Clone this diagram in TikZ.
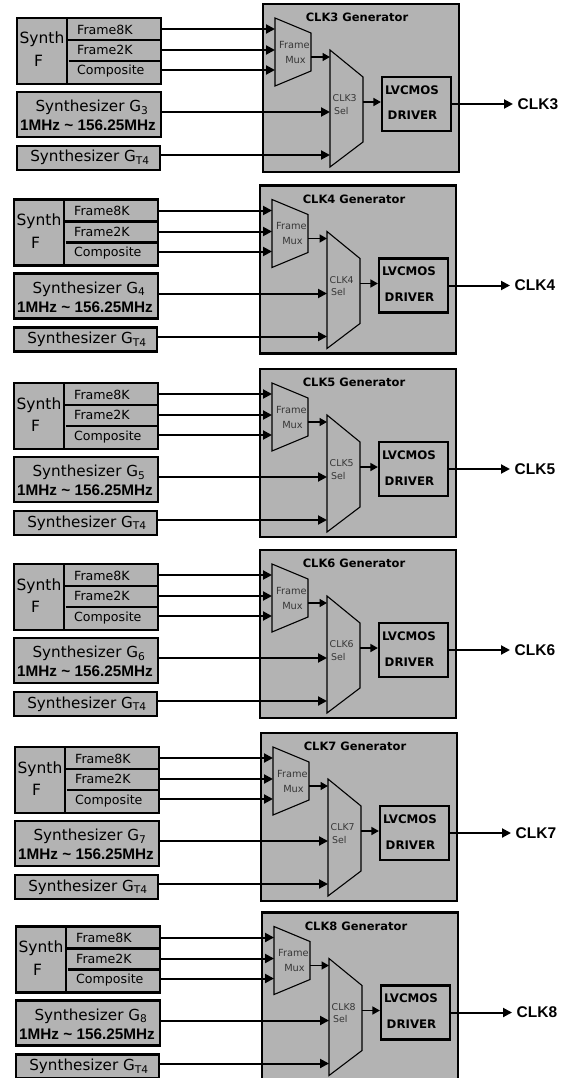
\documentclass[tikz,border=0pt]{standalone}
\usepackage{fontspec}
\setmainfont{DejaVu Sans}
\newfontfamily\arialb{Liberation Sans}
\usetikzlibrary{arrows.meta}
\definecolor{boxgray}{RGB}{179,179,179}
\definecolor{muxtext}{RGB}{55,55,55}
\newcommand\fsynth{\fontsize{15.5}{17}\selectfont}
\newcommand\frowlbl{\fontsize{12.6}{14}\selectfont}
\newcommand\fsyn{\fontsize{15.2}{17}\selectfont}
\newcommand\fmhz{\arialb\bfseries\fontsize{15.3}{17}\selectfont}
\newcommand\fgen{\bfseries\fontsize{11.5}{13}\selectfont}
\newcommand\fmux{\fontsize{9.8}{11}\selectfont}
\newcommand\fsel{\fontsize{9.4}{11}\selectfont}
\newcommand\fdrv{\bfseries\fontsize{11.8}{13}\selectfont}
\newcommand\fout{\arialb\bfseries\fontsize{15.5}{17}\selectfont}
\begin{document}
\begin{tikzpicture}[x=1pt,y=-1pt,
  box/.style={draw=black,line width=2.4pt,fill=boxgray,inner sep=0pt},
  genbox/.style={draw=black,line width=2.4pt,fill=boxgray,inner sep=0pt},
  drvbox/.style={draw=black,line width=2.2pt,fill=boxgray,inner sep=0pt},
  trap/.style={draw=black,line width=1.1pt,fill=boxgray},
  part/.style={line width=2.1pt},
  arr/.style={line width=2pt,-{Triangle[length=9pt,width=9pt]}},
  sarr/.style={line width=1.6pt,-{Triangle[length=7.5pt,width=8pt]}},
  lbl/.style={inner sep=0pt,anchor=base},
  lblw/.style={inner sep=0pt,anchor=base west}]
\useasboundingbox (0,0) rectangle (574,1078);
\fill[white] (0,0) rectangle (574,1078);
\foreach \n/\dx/\dy in {3/0/0,4/-3/181.5,5/-3/365,6/-3/546,7/-2/729,8/-1/908.5}{
\begin{scope}[shift={(\dx,\dy)}]
  % generator box
  \node[genbox,minimum width=196,minimum height=168] (gen\n) at (361,88) {};
  \node[lbl,font=\fgen] (ttl\n) at (357,21.7) {CLK\n\ Generator};
  % Synth F
  \node[box,minimum width=144,minimum height=66] (sf\n) at (89,51) {};
  \draw[part] (67,18) -- (67,84);
  \draw[part] (67,40) -- (161,40);
  \draw[part] (68.5,61) -- (161,61);
  \node[lbl,font=\fsynth] (sy\n) at (42,44) {Synth};
  \node[lbl,font=\fsynth] (sF\n) at (38.5,66.7) {F};
  \node[lblw,font=\frowlbl] (f8\n) at (77,34.3) {Frame8K};
  \node[lblw,font=\frowlbl] (f2\n) at (77,54.5) {Frame2K};
  \node[lblw,font=\frowlbl] (fc\n) at (77,75) {Composite};
  % Synth G
  \node[box,minimum width=144,minimum height=45] (g\n) at (89,114.5) {};
  \node[lbl,font=\fsyn] (gl\n) at (92,111.5) {Synthesizer G\textsubscript{\n}};
  \node[lbl,font=\fmhz] (mhz\n) at (88,130.7) {1MHz \textasciitilde\ 156.25MHz};
  % Synth GT4
  \node[box,minimum width=143,minimum height=24] (sgt\n) at (88.5,158) {};
  \node[lbl,font=\fsyn] (sgtl\n) at (90,162) {Synthesizer G\textsubscript{T4}};
  % Frame mux
  \draw[trap] (275,18) -- (311,33) -- (311,71) -- (275,86) -- cycle;
  \node[lbl,font=\fmux,text=muxtext] (mxa\n) at (294.5,48.3) {Frame};
  \node[lbl,font=\fmux,text=muxtext] (mxb\n) at (295.5,63.3) {Mux};
  \coordinate (mi1\n) at (275,29);
  \coordinate (mi2\n) at (275,50);
  \coordinate (mi3\n) at (275,70);
  \coordinate (mo\n) at (311,57);
  % Sel mux
  \draw[trap] (330,50) -- (363,77) -- (363,142) -- (330,167) -- cycle;
  \node[lblw,font=\fsel,text=muxtext] (sla\n) at (332.5,101.7) {CLK\n};
  \node[lblw,font=\fsel,text=muxtext] (slb\n) at (334,114.3) {Sel};
  \coordinate (si0\n) at (330,57);
  \coordinate (si1\n) at (330,112);
  \coordinate (si2\n) at (330,155);
  \coordinate (so\n) at (363,102);
  % driver
  \node[drvbox,minimum width=69,minimum height=54] (drv\n) at (416.5,104) {};
  \node[lbl,font=\fdrv] (dra\n) at (412,94.3) {LVCMOS};
  \node[lbl,font=\fdrv] (drb\n) at (412.5,120) {DRIVER};
  % output
  \node[inner ysep=0pt,inner xsep=4.5pt,anchor=west,font=\fout] (out\n) at (513,104) {CLK\n};
  % connectors
  \draw[arr] (mi1\n -| sf\n.east) -- (mi1\n);
  \draw[arr] (mi2\n -| sf\n.east) -- (mi2\n);
  \draw[arr] (mi3\n -| sf\n.east) -- (mi3\n);
  \draw[arr] (si1\n -| g\n.east) -- (si1\n);
  \draw[arr] (si2\n -| sgt\n.east) -- (si2\n);
  \draw[sarr] (mo\n) -- (si0\n);
  \draw[sarr] (so\n) -- (so\n -| drv\n.west);
  \draw[arr] (drv\n.east) -- (out\n.west);
\end{scope}
}
\end{tikzpicture}
\end{document}
